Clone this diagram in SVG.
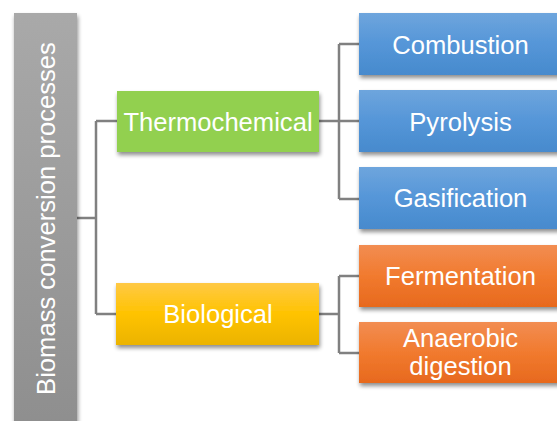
<svg xmlns="http://www.w3.org/2000/svg" width="557" height="421" viewBox="0 0 557 421">
  <defs>
    <linearGradient id="gGray" x1="0" y1="0" x2="0" y2="1">
      <stop offset="0" stop-color="#a9a9a9"/>
      <stop offset="1" stop-color="#8e8e8e"/>
    </linearGradient>
    <linearGradient id="gBlue" x1="0" y1="0" x2="0" y2="1">
      <stop offset="0" stop-color="#6ea5dd"/>
      <stop offset="0.5" stop-color="#5596d8"/>
      <stop offset="1" stop-color="#478acd"/>
    </linearGradient>
    <linearGradient id="gOrange" x1="0" y1="0" x2="0" y2="1">
      <stop offset="0" stop-color="#f28d52"/>
      <stop offset="0.5" stop-color="#f17a2e"/>
      <stop offset="1" stop-color="#e7691e"/>
    </linearGradient>
    <linearGradient id="gGold" x1="0" y1="0" x2="0" y2="1">
      <stop offset="0" stop-color="#ffc945"/>
      <stop offset="0.5" stop-color="#ffc300"/>
      <stop offset="1" stop-color="#ebb300"/>
    </linearGradient>
    <filter id="shadow" x="-10%" y="-10%" width="125%" height="140%">
      <feGaussianBlur in="SourceAlpha" stdDeviation="2.2"/>
      <feOffset dx="1" dy="3" result="b"/>
      <feComponentTransfer><feFuncA type="linear" slope="0.45"/></feComponentTransfer>
      <feMerge><feMergeNode/><feMergeNode in="SourceGraphic"/></feMerge>
    </filter>
  </defs>
  <style>
    .lbl { font-family: "Liberation Sans", Arial, sans-serif; font-size: 25.6px; fill: #ffffff; text-anchor: middle; }
    .conn { fill: none; stroke: #808080; stroke-width: 2.5; }
  </style>
  <rect width="557" height="421" fill="#ffffff"/>

  <g id="connectors">
    <path class="conn" d="M77 218 H96 M96 121 V314 M96 121 H117 M96 314 H116"/>
    <path class="conn" d="M319 121 H339 M339 44 V199 M339 44 H359 M339 121 H359 M339 199 H359"/>
    <path class="conn" d="M319 314 H339 M339 276 V353 M339 276 H359 M339 353 H359"/>
  </g>

  <g id="root">
    <rect x="14" y="13" width="63" height="420" fill="url(#gGray)" filter="url(#shadow)"/>
    <text class="lbl" transform="translate(54.5,218.5) rotate(-90)">Biomass conversion processes</text>
  </g>

  <g id="thermochemical">
    <rect x="117" y="91" width="202" height="61" fill="#92d050" filter="url(#shadow)"/>
    <text class="lbl" x="218" y="130.5">Thermochemical</text>
  </g>

  <g id="biological">
    <rect x="116" y="283" width="203" height="62" fill="url(#gGold)" filter="url(#shadow)"/>
    <text class="lbl" x="218" y="323">Biological</text>
  </g>

  <g id="combustion">
    <rect x="359" y="13" width="205" height="62" fill="url(#gBlue)" filter="url(#shadow)"/>
    <text class="lbl" x="460.5" y="53.5">Combustion</text>
  </g>

  <g id="pyrolysis">
    <rect x="359" y="90" width="205" height="62" fill="url(#gBlue)" filter="url(#shadow)"/>
    <text class="lbl" x="460.5" y="130.5">Pyrolysis</text>
  </g>

  <g id="gasification">
    <rect x="359" y="167" width="205" height="62" fill="url(#gBlue)" filter="url(#shadow)"/>
    <text class="lbl" x="460.5" y="207">Gasification</text>
  </g>

  <g id="fermentation">
    <rect x="359" y="245" width="205" height="62" fill="url(#gOrange)" filter="url(#shadow)"/>
    <text class="lbl" x="460.5" y="284.5">Fermentation</text>
  </g>

  <g id="anaerobic">
    <rect x="359" y="322" width="205" height="61" fill="url(#gOrange)" filter="url(#shadow)"/>
    <text class="lbl" x="460.5" y="347">Anaerobic</text>
    <text class="lbl" x="460.5" y="375">digestion</text>
  </g>
</svg>
